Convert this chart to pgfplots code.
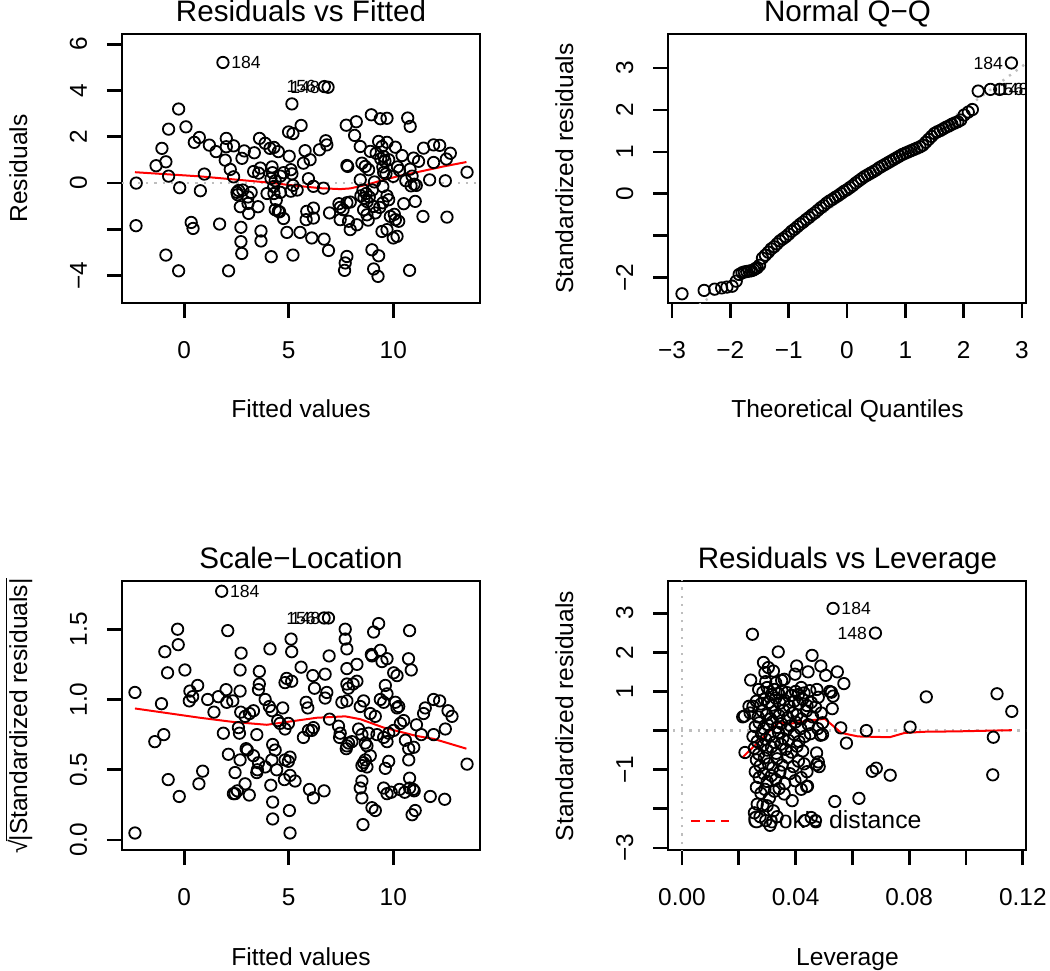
\documentclass[border=0pt]{standalone}
\usepackage{fontspec}
\setmainfont{Liberation Sans}
\usepackage{pgfplots}
\pgfplotsset{compat=1.18}
\definecolor{rgray}{HTML}{BEBEBE}
\tikzset{lab/.style={font=\fontsize{8.8bp}{10bp}\selectfont, inner sep=0pt}}
\pgfplotsset{
  rpanel/.style={
    scale only axis, width=179bp, height=134.5bp,
    anchor=south west,
    axis line style={line width=1.4bp},
    tick align=outside, tick pos=left,
    major tick length=7.5bp,
    tick style={line width=1.4bp, black},
    tick label style={font=\fontsize{12.2bp}{14bp}\selectfont},
    xticklabel style={anchor=base},
    yticklabel style={rotate=90, anchor=base},
    xticklabel shift=20bp,
    yticklabel shift=10bp,
    scaled ticks=false,
    clip=true,
  },
  pts/.style={only marks, mark=o, mark size=2.85bp, mark options={line width=0.9bp, black}},
  lowess/.style={red, line width=1bp, no marks},
  rdot/.style={rgray, line width=1.2bp, dash pattern=on 1.1bp off 3bp},
}
\newcommand{\ttl}{\fontsize{14.8bp}{17bp}\selectfont}
\newcommand{\lbl}{\fontsize{12.3bp}{14bp}\selectfont}
\begin{document}
\begin{tikzpicture}
\path[use as bounding box] (0,0) rectangle (525bp,-485.5bp);
% ---------------- Residuals vs Fitted ----------------
\begin{axis}[rpanel, at={(61bp,-151.5bp)},
  xmin=-2.98, xmax=14.15, ymin=-5.18, ymax=6.44,
  xtick={0,5,10}, xticklabels={0,5,10},
  ytick={-4,-2,0,2,4,6}, yticklabels={−4,,0,2,4,6}]
\addplot[rdot] coordinates {(-3,0) (14.2,0)};
\addplot[pts] coordinates {
(-2.30,0.00) (-2.31,-1.84) (-1.35,0.75) (-1.07,1.50) (-0.88,0.92) (-0.75,2.33) (-0.75,0.30) (-0.27,3.20) (-0.22,-0.20) (0.08,2.43)
(-0.88,-3.11) (-0.27,-3.79) (0.33,-1.70) (0.42,-1.96) (0.48,1.76) (0.72,1.97) (0.77,-0.33) (0.96,0.39) (1.20,1.64) (1.52,1.36)
(1.69,-1.77) (1.85,5.21) (2.01,1.93) (2.01,1.57) (2.36,1.61) (1.96,0.99) (2.20,0.59) (2.36,0.27) (2.12,-3.79) (2.52,-0.40)
(2.60,-0.32) (2.55,-0.50) (2.76,1.07) (2.87,1.39) (2.68,-1.02) (3.05,-0.88) (3.08,-1.31) (2.80,-0.30) (3.05,-0.60) (3.20,-0.40)
(2.71,-1.91) (2.71,-2.53) (2.75,-3.04) (3.35,1.31) (3.32,0.50) (3.56,0.43) (3.64,0.65) (3.53,-1.02) (3.67,-2.07) (3.67,-2.50)
(3.60,1.93) (3.87,1.72) (4.10,1.50) (4.29,1.54) (4.50,1.36) (3.96,-0.45) (4.16,-3.18) (4.20,0.70) (4.22,0.45) (4.15,0.20)
(4.35,0.10) (4.28,-0.15) (4.29,-0.45) (4.40,-0.74) (4.56,-1.24) (4.75,-1.53) (4.91,-2.13) (5.02,1.16) (4.99,2.21) (5.20,2.14)
(5.15,3.42) (5.10,0.58) (5.15,0.40) (5.20,-0.10) (5.10,-0.35) (5.40,-0.30) (5.20,-3.11) (4.60,0.30) (4.75,0.45) (4.60,-0.40)
(4.35,-1.15) (4.50,-1.22)
(5.54,-2.13) (5.59,2.49) (5.70,0.86) (5.78,1.40) (5.94,0.19) (6.02,1.01) (6.47,1.44) (5.86,-1.22) (5.83,-1.58) (6.18,-1.51)
(6.18,-1.08) (6.18,-0.14) (6.10,-2.37) (6.66,-0.22) (6.69,-2.42) (6.70,4.17) (6.88,4.14) (6.77,1.83) (6.82,1.65) (6.90,-2.91)
(6.95,-1.29) (7.40,-0.89) (7.46,-1.05) (7.60,-1.15) (7.78,-0.85) (7.94,-0.82) (7.46,-1.58) (7.86,-1.65) (7.94,-2.01) (8.26,-1.80)
(7.75,2.50) (8.23,2.65) (8.15,2.06) (7.78,0.76) (7.82,0.72) (8.42,1.58) (7.78,-3.17) (7.70,-3.45) (7.67,-3.77)
(8.50,0.86) (8.66,0.72) (8.82,0.58) (8.42,0.14) (8.55,-0.30) (8.45,-0.55) (8.60,-0.65) (8.75,-0.80) (8.85,-0.60) (8.70,-0.45)
(8.58,-1.15) (8.74,-1.37) (8.80,-1.60) (8.90,1.37) (8.95,2.95) (9.06,-1.01) (9.14,-1.29) (9.00,-0.30) (9.10,0.05) (9.18,1.29)
(9.30,1.80) (9.38,2.78) (9.70,2.80) (9.70,1.76) (9.46,1.58) (9.54,1.15) (9.78,1.01) (9.40,1.05) (9.60,0.95) (9.50,0.70)
(9.65,0.40) (9.54,0.46) (9.50,-0.15) (9.70,-0.55) (9.78,-0.72) (9.50,-0.85) (9.35,-1.05) (9.86,-1.44) (10.10,-1.58) (10.26,-1.65)
(10.05,-1.35) (9.46,-2.09) (9.70,-2.01) (10.00,-2.37) (10.18,-2.30) (8.98,-2.88) (9.30,-3.14) (9.06,-3.71) (9.27,-4.03) (10.00,0.29)
(10.10,1.55) (10.42,1.19) (10.30,0.55) (10.50,-0.89) (10.60,0.10) (10.69,2.81) (10.81,2.45) (10.78,-3.77)
(10.97,1.08) (11.21,0.94) (10.80,0.60) (10.90,0.30) (11.00,-0.05) (10.85,-0.12) (11.10,-0.10) (11.05,-0.79) (11.45,1.51) (11.93,1.65)
(12.22,1.63) (12.73,1.29) (11.93,0.89) (12.54,1.04) (11.74,0.14) (12.49,0.10) (13.53,0.47) (11.42,-1.44) (12.57,-1.47) (10.20,0.70)
};
\addplot[lowess] coordinates {
(-2.36,0.47) (0.75,0.29) (3.95,0.03) (4.90,-0.07) (6.50,-0.22) (7.46,-0.26) (7.94,-0.23) (8.74,-0.07) (9.54,0.14) (10.34,0.32) (11.29,0.50) (12.41,0.72) (13.50,0.91)};
\node[lab, anchor=west, xshift=4bp] at (axis cs:1.85,5.21) {184};
\node[lab, anchor=east, xshift=-4bp] at (axis cs:6.70,4.17) {156};
\node[lab, anchor=east, xshift=-4bp] at (axis cs:6.88,4.14) {148};
\end{axis}
% ---------------- Normal Q-Q ----------------
\begin{axis}[rpanel, at={(334bp,-151.5bp)},
  xmin=-3.07, xmax=3.07, ymin=-2.6, ymax=3.81,
  xtick={-3,-2,-1,0,1,2,3}, xticklabels={−3,−2,−1,0,1,2,3},
  ytick={-2,-1,0,1,2,3}, yticklabels={−2,,0,1,2,3}]
\addplot[rdot] coordinates {(-3.1,-3.23) (3.1,3.14)};
\addplot[pts] coordinates {
(-2.83,-2.38) (-2.45,-2.30) (-2.27,-2.27) (-2.15,-2.24) (-2.06,-2.22) (-1.97,-2.20) (-1.90,-2.08) (-1.85,-1.92) (-1.80,-1.88) (-1.76,-1.86)
(-1.72,-1.85) (-1.68,-1.84) (-1.64,-1.83) (-1.60,-1.81) (-1.57,-1.78) (-1.54,-1.76) (-1.50,-1.70) (-1.45,-1.53) (-1.40,-1.46) (-1.35,-1.39)
(-1.30,-1.31) (-1.25,-1.26) (-1.20,-1.19) (-1.15,-1.12) (-1.10,-1.07) (-1.05,-1.02) (-1.00,-0.96) (-0.95,-0.89) (-0.90,-0.84) (-0.85,-0.78)
(-0.80,-0.72) (-0.75,-0.67) (-0.70,-0.61) (-0.65,-0.56) (-0.60,-0.50) (-0.55,-0.45) (-0.50,-0.39) (-0.45,-0.33) (-0.40,-0.28) (-0.35,-0.22)
(-0.30,-0.17) (-0.25,-0.13) (-0.20,-0.08) (-0.15,-0.04) (-0.10,0.01) (-0.05,0.06) (0.00,0.10) (0.05,0.15) (0.10,0.20) (0.15,0.26)
(0.20,0.31) (0.25,0.36) (0.30,0.41) (0.35,0.45) (0.40,0.49) (0.45,0.53) (0.50,0.57) (0.55,0.62) (0.60,0.66) (0.65,0.70)
(0.70,0.74) (0.75,0.78) (0.80,0.82) (0.85,0.86) (0.90,0.90) (0.95,0.94) (1.00,0.97) (1.05,1.00) (1.10,1.03) (1.15,1.06)
(1.20,1.09) (1.25,1.12) (1.30,1.16) (1.35,1.23) (1.40,1.30) (1.45,1.37) (1.50,1.44) (1.55,1.48) (1.60,1.51) (1.65,1.55)
(1.70,1.59) (1.75,1.62) (1.80,1.66) (1.85,1.69) (1.90,1.72) (1.95,1.76) (2.01,1.88) (2.08,1.95) (2.15,2.01) (2.25,2.45)
(2.46,2.49) (2.62,2.49) (2.82,3.12)
};
\node[lab, anchor=east, xshift=-4bp] at (axis cs:2.82,3.12) {184};
\node[lab, anchor=west, xshift=0.5bp] at (axis cs:2.50,2.49) {156};
\node[lab, anchor=west, xshift=3bp] at (axis cs:2.50,2.49) {148};
\end{axis}
% ---------------- Scale-Location ----------------
\begin{axis}[rpanel, at={(61bp,-425bp)},
  xmin=-2.98, xmax=14.15, ymin=-0.071, ymax=1.843,
  xtick={0,5,10}, xticklabels={0,5,10},
  ytick={0,0.5,1,1.5}, yticklabels={0.0,0.5,1.0,1.5}]
\addplot[pts] coordinates {
(1.79,1.77) (6.69,1.58) (6.90,1.58) (-0.32,1.50) (2.08,1.49) (7.70,1.50) (7.70,1.43) (7.78,1.36) (9.30,1.54) (9.06,1.48)
(10.78,1.49) (5.11,1.43) (5.14,1.34) (-0.29,1.39) (-0.93,1.34) (2.72,1.33) (4.10,1.36) (6.93,1.31) (8.95,1.32) (8.98,1.31)
(9.38,1.35) (9.46,1.27) (9.70,1.29) (10.73,1.29) (10.86,1.21) (0.03,1.21) (-0.80,1.19) (2.67,1.21) (3.59,1.20) (5.59,1.23)
(4.90,1.15) (5.14,1.13) (4.82,1.12) (6.15,1.17) (6.74,1.18) (7.78,1.22) (8.26,1.25) (10.02,1.19) (10.18,1.17) (-2.36,1.05)
(0.27,1.06) (0.40,1.02) (0.64,1.10) (0.24,0.99) (1.12,1.00) (1.63,1.02) (2.00,1.07) (2.03,0.98) (2.32,0.99) (2.67,1.06)
(3.59,1.11) (3.55,1.07) (3.87,1.00) (4.07,0.95) (4.19,0.92) (4.71,0.94) (5.83,0.98) (5.91,0.94) (6.23,1.08) (6.74,1.01)
(6.82,1.05) (7.78,1.11) (7.85,1.08) (8.08,1.11) (8.26,1.13) (7.54,0.98) (7.78,0.99) (8.42,0.95) (8.58,0.99) (8.90,0.90)
(9.14,0.88) (9.38,1.00) (9.54,0.98) (9.62,1.10) (9.70,1.04) (10.10,0.98) (10.18,0.94) (10.26,0.95) (11.45,0.90) (11.53,0.94)
(11.93,1.00) (12.22,0.99) (12.62,0.92) (12.81,0.88) (-1.09,0.97) (-1.41,0.70) (-0.98,0.75) (1.42,0.91) (2.70,0.91) (2.91,0.88)
(3.12,0.90) (3.31,0.92) (2.59,0.80) (2.64,0.76) (1.87,0.76) (3.47,0.75) (4.47,0.85) (4.58,0.83) (4.98,0.83) (4.82,0.79)
(5.70,0.73) (5.94,0.78) (6.10,0.78) (6.18,0.80) (6.95,0.86) (7.38,0.81) (7.46,0.76) (7.43,0.73) (7.75,0.65) (7.78,0.67)
(7.86,0.69) (8.02,0.70) (8.34,0.79) (8.50,0.75) (8.66,0.69) (8.74,0.67) (8.82,0.76) (9.22,0.75) (9.54,0.73) (9.70,0.70)
(9.78,0.76) (10.02,0.78) (10.34,0.83) (10.50,0.85) (10.58,0.71) (10.74,0.65) (10.98,0.66) (11.11,0.82) (11.34,0.75) (11.93,0.75)
(12.49,0.79) (13.53,0.54) (2.11,0.61) (2.67,0.57) (2.96,0.65) (3.02,0.64) (3.31,0.60) (3.55,0.55) (3.87,0.52) (3.47,0.48)
(2.43,0.48) (4.23,0.68) (4.35,0.64) (4.19,0.57) (4.42,0.50) (4.82,0.57) (4.98,0.56) (5.06,0.59) (4.79,0.43) (5.06,0.46)
(5.30,0.42) (8.58,0.55) (8.66,0.57) (8.74,0.52) (8.50,0.53) (8.90,0.60) (9.62,0.51) (9.78,0.56) (10.74,0.57) (10.78,0.44)
(8.50,0.42) (8.42,0.37) (8.50,0.30) (8.98,0.23) (9.14,0.21) (8.55,0.11) (-0.77,0.43) (0.70,0.40) (0.88,0.49) (-0.24,0.31)
(2.35,0.33) (2.54,0.35) (2.91,0.40) (3.11,0.32) (4.14,0.39) (4.23,0.27) (4.23,0.15) (5.99,0.36) (6.18,0.30) (6.69,0.35)
(5.03,0.21) (5.06,0.05) (-2.36,0.05) (9.54,0.37) (9.70,0.33) (9.90,0.34) (10.30,0.36) (10.55,0.34) (10.78,0.37) (10.95,0.36)
(11.00,0.35) (11.77,0.31) (12.46,0.29) (10.90,0.18) (11.05,0.21) (2.43,0.33) (3.50,0.50)
};
\addplot[lowess] coordinates {
(-2.36,0.936) (0.75,0.87) (2.35,0.84) (3.95,0.82) (4.90,0.84) (6.34,0.87) (7.70,0.88) (8.42,0.86) (9.54,0.80) (11.13,0.74) (11.93,0.72) (13.50,0.65)};
\node[lab, anchor=west, xshift=4bp] at (axis cs:1.79,1.77) {184};
\node[lab, anchor=east, xshift=-4bp] at (axis cs:6.69,1.58) {156};
\node[lab, anchor=east, xshift=-4bp] at (axis cs:6.90,1.58) {148};
\end{axis}
% ---------------- Residuals vs Leverage ----------------
\begin{axis}[rpanel, at={(334bp,-425bp)},
  xmin=-0.0049, xmax=0.1211, ymin=-3.05, ymax=3.82,
  xtick={0,0.02,0.04,0.06,0.08,0.1,0.12}, xticklabels={0.00,,0.04,,0.08,,0.12},
  ytick={-3,-2,-1,0,1,2,3}, yticklabels={−3,,−1,,1,2,3},
  legend style={at={(rel axis cs:0.061,0.108)}, anchor=west, draw=none, fill=none,
    font=\fontsize{12.4bp}{14bp}\selectfont, inner sep=0pt,
    /tikz/every odd column/.append style={column sep=6.5bp}},
  legend image code/.code={\draw[#1] (0bp,0bp) -- (19bp,0bp);}]
\addlegendimage{red, line width=1bp, dash pattern=on 4.2bp off 3.3bp}
\addlegendentry{Cook\textquotesingle s distance}
\addplot[rdot, forget plot] coordinates {(-0.006,0) (0.122,0)};
\addplot[rdot, forget plot] coordinates {(0,-3.1) (0,3.9)};
\addplot[pts, forget plot] coordinates {
(0.0532,3.12) (0.0681,2.49) (0.0248,2.46) (0.0339,2.01) (0.0458,1.92) (0.0489,1.65) (0.0287,1.74) (0.0304,1.61) (0.0322,1.52) (0.0292,1.48)
(0.0404,1.65) (0.0398,1.44) (0.0444,1.50) (0.0506,1.41) (0.0547,1.50) (0.0570,1.20) (0.0242,1.29) (0.0351,1.28) (0.0860,0.86) (0.1109,0.94)
(0.1161,0.49) (0.0803,0.09) (0.0559,0.07) (0.0649,0.00) (0.0579,-0.32) (0.1096,-0.17) (0.1094,-1.13) (0.0670,-1.04) (0.0684,-0.96) (0.0733,-1.14)
(0.0623,-1.73) (0.0538,-1.81) (0.0388,-1.79) (0.0439,-1.43) (0.0474,-0.57) (0.0474,-0.87) (0.0214,0.35) (0.0222,-0.56) (0.0236,0.62) (0.0526,0.98)
(0.0532,0.88) (0.0529,0.56) (0.0495,-0.10)
(0.0295,1.25) (0.0330,1.22) (0.0360,1.31) (0.0420,1.10) (0.0475,1.05)
(0.0270,1.05) (0.0285,0.98) (0.0300,1.10) (0.0315,0.92) (0.0325,1.05) (0.0340,0.95) (0.0352,1.02) (0.0370,0.97) (0.0385,0.90) (0.0400,1.00)
(0.0410,0.92) (0.0430,0.96) (0.0450,1.02) (0.0480,0.85) (0.0520,1.00)
(0.0250,0.62) (0.0262,0.75) (0.0278,0.68) (0.0290,0.80) (0.0305,0.72) (0.0318,0.65) (0.0330,0.83) (0.0345,0.70) (0.0360,0.78) (0.0378,0.62)
(0.0395,0.75) (0.0410,0.68) (0.0425,0.80) (0.0440,0.64) (0.0455,0.72) (0.0470,0.60)
(0.0220,0.37) (0.0240,0.45) (0.0268,0.35) (0.0282,0.50) (0.0298,0.40) (0.0312,0.30) (0.0328,0.48) (0.0342,0.38) (0.0358,0.52) (0.0372,0.33)
(0.0390,0.45) (0.0405,0.40) (0.0420,0.30) (0.0438,0.50) (0.0460,0.35) (0.0490,0.45)
(0.0258,0.10) (0.0272,0.20) (0.0288,0.05) (0.0302,0.15) (0.0318,0.22) (0.0335,0.08) (0.0350,0.18) (0.0368,0.02) (0.0382,0.12) (0.0400,0.22)
(0.0418,0.05) (0.0445,0.15) (0.0478,0.05) (0.0495,0.20)
(0.0250,-0.15) (0.0265,-0.28) (0.0280,-0.08) (0.0295,-0.22) (0.0310,-0.12) (0.0325,-0.30) (0.0340,-0.05) (0.0355,-0.20) (0.0375,-0.25) (0.0395,-0.10)
(0.0412,-0.28) (0.0432,-0.15) (0.0452,-0.08) (0.0488,-0.12)
(0.0255,-0.45) (0.0270,-0.60) (0.0285,-0.38) (0.0300,-0.50) (0.0315,-0.42) (0.0332,-0.58) (0.0348,-0.35) (0.0365,-0.48) (0.0385,-0.55) (0.0405,-0.40)
(0.0425,-0.52)
(0.0262,-0.75) (0.0275,-0.90) (0.0290,-0.70) (0.0305,-0.85) (0.0320,-0.95) (0.0335,-0.72) (0.0352,-0.88) (0.0372,-0.68) (0.0392,-0.92) (0.0410,-0.78)
(0.0430,-0.85) (0.0483,-0.92) (0.0480,-0.80)
(0.0258,-1.05) (0.0272,-1.20) (0.0288,-1.10) (0.0300,-1.30) (0.0315,-1.15) (0.0330,-1.25) (0.0345,-1.05) (0.0362,-1.35) (0.0380,-1.10) (0.0398,-1.28)
(0.0420,-1.20) (0.0440,-1.05)
(0.0262,-1.45) (0.0278,-1.60) (0.0292,-1.50) (0.0308,-1.72) (0.0325,-1.55) (0.0342,-1.48) (0.0360,-1.62) (0.0420,-1.50) (0.0442,-1.42)
(0.0255,-2.10) (0.0265,-1.88) (0.0275,-2.20) (0.0285,-1.90) (0.0295,-2.30) (0.0300,-1.92) (0.0310,-2.42) (0.0322,-2.05)
(0.0335,-2.20) (0.0432,-2.30) (0.0455,-2.22) (0.0470,-2.30)
};
\addplot[lowess, forget plot] coordinates {
(0.0214,-0.68) (0.0339,0.20) (0.0386,0.18) (0.0450,0.26) (0.0503,0.30) (0.0561,-0.06) (0.0620,-0.15) (0.0678,-0.16) (0.0731,-0.17) (0.0784,-0.06) (0.0854,-0.03) (0.0970,-0.02) (0.1161,0.01)};
\node[lab, anchor=west, xshift=4bp] at (axis cs:0.0532,3.12) {184};
\node[lab, anchor=east, xshift=-4bp] at (axis cs:0.0681,2.49) {148};
\end{axis}
% ---------------- titles and axis labels ----------------
\node[font=\ttl, anchor=base] at (150.5bp,-10.85bp) {Residuals vs Fitted};
\node[font=\ttl, anchor=base] at (423.75bp,-10.85bp) {Normal Q−Q};
\node[font=\ttl, anchor=base] at (150.5bp,-284bp) {Scale−Location};
\node[font=\ttl, anchor=base] at (423.75bp,-284bp) {Residuals vs Leverage};
\node[font=\lbl, anchor=base] at (150.5bp,-208.5bp) {Fitted values};
\node[font=\lbl, anchor=base] at (423.75bp,-208.5bp) {Theoretical Quantiles};
\node[font=\lbl, anchor=base] at (150.5bp,-482.5bp) {Fitted values};
\node[font=\lbl, anchor=base] at (423.75bp,-482.5bp) {Leverage};
\node[font=\lbl, anchor=base, rotate=90] at (13.5bp,-84.25bp) {Residuals};
\node[font=\lbl, anchor=base, rotate=90] at (286.5bp,-84.25bp) {Standardized residuals};
\node[font=\lbl, anchor=base, rotate=90, inner sep=0pt] at (13.5bp,-358bp) {√\kern-0.6bp$\overline{\mbox{|Standardized residuals|}}$};
\node[font=\lbl, anchor=base, rotate=90] at (286.5bp,-358bp) {Standardized residuals};
\end{tikzpicture}
\end{document}
